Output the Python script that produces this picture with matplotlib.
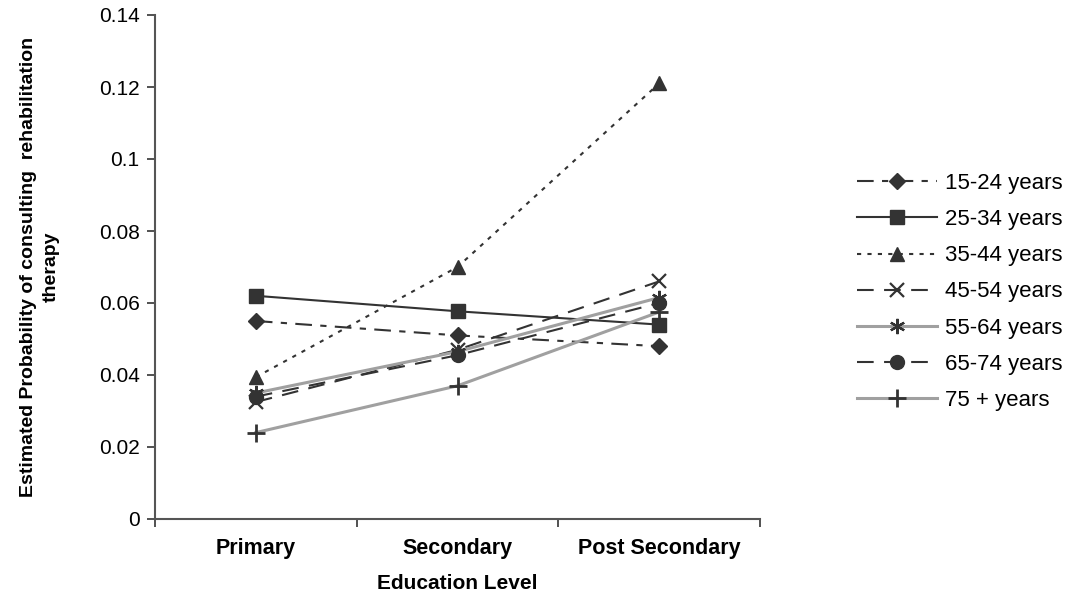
import matplotlib.pyplot as plt
from matplotlib.ticker import FixedLocator

plt.rcParams['font.family'] = ['Liberation Sans', 'DejaVu Sans']

levels = ["Primary", "Secondary", "Post Secondary"]
groups = ["15-24 years", "25-34 years", "35-44 years", "45-54 years",
          "55-64 years", "65-74 years", "75 + years"]
p_15_24 = [0.055, 0.051, 0.048]
p_25_34 = [0.062, 0.0577, 0.054]
p_35_44 = [0.0394, 0.070, 0.121]
p_45_54 = [0.0325, 0.047, 0.066]
p_55_64 = [0.035, 0.0465, 0.0615]
p_65_74 = [0.034, 0.0455, 0.060]
p_75 = [0.024, 0.037, 0.0575]

series = [p_15_24, p_25_34, p_35_44, p_45_54, p_55_64, p_65_74, p_75]
dark = "#333333"
grey = "#a0a0a0"
styles = [
    dict(color=dark, ls=(0, (8, 4, 3, 4)), marker="D", ms=8),
    dict(color=dark, ls="-", marker="s", ms=10),
    dict(color=dark, ls=(0, (2, 3)), marker="^", ms=10),
    dict(color=dark, ls=(0, (8, 5)), marker="x", ms=10, mew=1.6),
    dict(color=grey, ls="-", lw=2.2, marker=(6, 2, 0), ms=11, mec=dark, mew=1.6),
    dict(color=dark, ls=(0, (8, 5)), marker="o", ms=10),
    dict(color=grey, ls="-", lw=2.2, marker="+", ms=13, mec=dark, mew=2),
]

fig = plt.figure(figsize=(10.78, 5.97), dpi=100)
ax = fig.add_axes([155 / 1078, 1 - 519 / 597, 605 / 1078, 504 / 597])

x = list(range(len(levels)))
for name, vals, st in zip(groups, series, styles):
    st = dict(st)
    lw = st.pop("lw", 1.5)
    mec = st.pop("mec", st["color"])
    ax.plot(x, vals, label=name, lw=lw, mec=mec, mfc=mec, **st)

ax.set_xlim(-0.5, 2.5)
ax.set_ylim(0, 0.14)
ax.set_yticks([0, 0.02, 0.04, 0.06, 0.08, 0.1, 0.12, 0.14])
ax.set_yticklabels(["0", "0.02", "0.04", "0.06", "0.08", "0.1", "0.12", "0.14"])
ax.xaxis.set_major_locator(FixedLocator([-0.5, 0.5, 1.5, 2.5]))
ax.xaxis.set_major_formatter(plt.NullFormatter())
ax.set_xticks(x, minor=True)
ax.set_xticklabels(levels, minor=True, fontweight="bold", fontsize=15.5)
ax.tick_params(axis="x", which="minor", length=0, pad=14)
ax.tick_params(axis="both", which="major", length=6, width=1.2,
               color="#333333", labelsize=15)
ax.tick_params(axis="y", pad=5)
for side in ["top", "right"]:
    ax.spines[side].set_visible(False)
for side in ["left", "bottom"]:
    ax.spines[side].set_color("#555555")
    ax.spines[side].set_linewidth(1.5)

ax.set_xlabel("Education Level", fontweight="bold", fontsize=15)
ax.xaxis.set_label_coords(0.5, -0.11)
ax.set_ylabel("Estimated Probability of consulting  rehabilitation\ntherapy",
              fontweight="bold", fontsize=14, linespacing=1.45)
ax.yaxis.set_label_coords(-0.158, 0.5)

fig.legend(loc="center left", bbox_to_anchor=(837 / 1078, 1 - 292 / 597),
           frameon=False, fontsize=16, handlelength=3.6, labelspacing=0.68,
           handletextpad=0.35)

fig.savefig("out.png", dpi=100)
